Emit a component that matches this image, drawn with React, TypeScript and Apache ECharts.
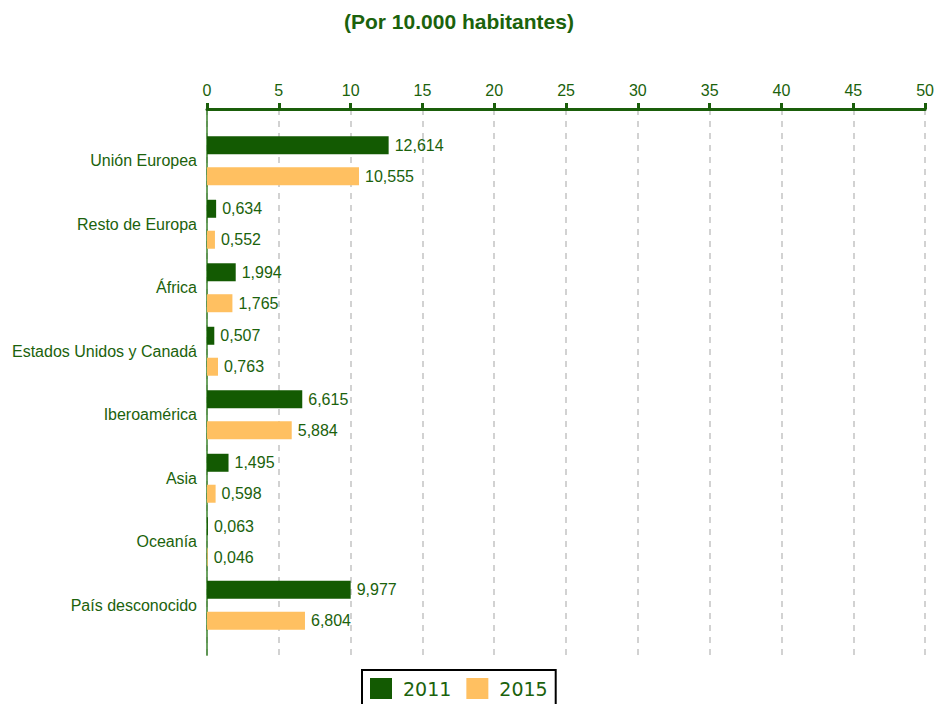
import React, { useEffect, useRef } from "react";
import * as echarts from "echarts";

const categories = [
  "Unión Europea",
  "Resto de Europa",
  "África",
  "Estados Unidos y Canadá",
  "Iberoamérica",
  "Asia",
  "Oceanía",
  "País desconocido",
];
const values2011 = [12.614, 0.634, 1.994, 0.507, 6.615, 1.495, 0.063, 9.977];
const values2015 = [10.555, 0.552, 1.765, 0.763, 5.884, 0.598, 0.046, 6.804];
const seriesNames = ["2011", "2015"];
const titleText = "(Por 10.000 habitantes)";

const GREEN = "#135a02";
const ORANGE = "#ffc061";
const TEXT = "#1b620c";
const FONT = "'Liberation Sans', Arial, sans-serif";

export default function App() {
  const ref = useRef<HTMLDivElement>(null);
  useEffect(() => {
    if (!ref.current) return;
    const chart = echarts.init(ref.current, null, { renderer: "svg" });
    const fmt = (p: any) => Number(p.value).toFixed(3).replace(".", ",");
    const label = {
      show: true,
      position: "right",
      distance: 6,
      color: TEXT,
      fontSize: 16,
      fontFamily: FONT,
      formatter: fmt,
    };
    chart.setOption({
      animation: false,
      backgroundColor: "#fff",
      title: {
        text: titleText,
        left: 339,
        top: 6,
        textStyle: { color: TEXT, fontSize: 21, fontWeight: "bold", fontFamily: FONT },
      },
      legend: {
        data: seriesNames,
        top: 670,
        left: 362,
        orient: "horizontal",
        itemWidth: 22,
        itemHeight: 21,
        itemGap: 15,
        padding: [8, 8, 10, 8],
        borderColor: "#000",
        borderWidth: 2,
        textStyle: {
          color: TEXT,
          fontSize: 19,
          fontFamily: "'DejaVu Sans', Verdana, sans-serif",
          padding: [0, 0, 0, 6],
        },
        icon: "rect",
      },
      grid: [
        { left: 207, right: 10, top: 109, bottom: 49 },
        { left: 207, right: 10, top: 129, bottom: 67 },
      ],
      xAxis: [
        {
          gridIndex: 0,
          type: "value",
          position: "top",
          min: 0,
          max: 50,
          interval: 5,
          axisLine: { show: true, lineStyle: { color: "#1a5e0a", width: 3 } },
          axisTick: { show: true, length: 6, lineStyle: { color: "#1a5e0a", width: 3 } },
          axisLabel: { color: TEXT, fontSize: 16, fontFamily: FONT, margin: 11 },
          splitLine: { show: true, lineStyle: { color: "#c4c4c4", type: [6, 6], width: 1.5 } },
        },
        { gridIndex: 1, type: "value", min: 0, max: 50, show: false },
      ],
      yAxis: [
        {
          gridIndex: 0,
          type: "category",
          data: [""],
          axisLine: { show: true, lineStyle: { color: "#2e7a1e", width: 2, opacity: 0.7 } },
          axisTick: { show: false },
          axisLabel: { show: false },
          splitLine: { show: false },
        },
        {
          gridIndex: 1,
          type: "category",
          data: categories,
          inverse: true,
          axisLine: { show: false },
          axisTick: { show: false },
          axisLabel: { color: TEXT, fontSize: 16, fontFamily: FONT, margin: 10 },
        },
      ],
      series: [
        {
          name: seriesNames[0],
          type: "bar",
          xAxisIndex: 1,
          yAxisIndex: 1,
          data: values2011,
          barWidth: 18,
          barGap: "72%",
          itemStyle: { color: GREEN },
          label,
        },
        {
          name: seriesNames[1],
          type: "bar",
          xAxisIndex: 1,
          yAxisIndex: 1,
          data: values2015,
          barWidth: 18,
          barGap: "72%",
          itemStyle: { color: ORANGE },
          label,
        },
      ],
    });
    return () => chart.dispose();
  }, []);
  return (
    <div
      ref={ref}
      style={{ position: "fixed", left: 0, top: 0, width: 937, height: 704 }}
    />
  );
}
